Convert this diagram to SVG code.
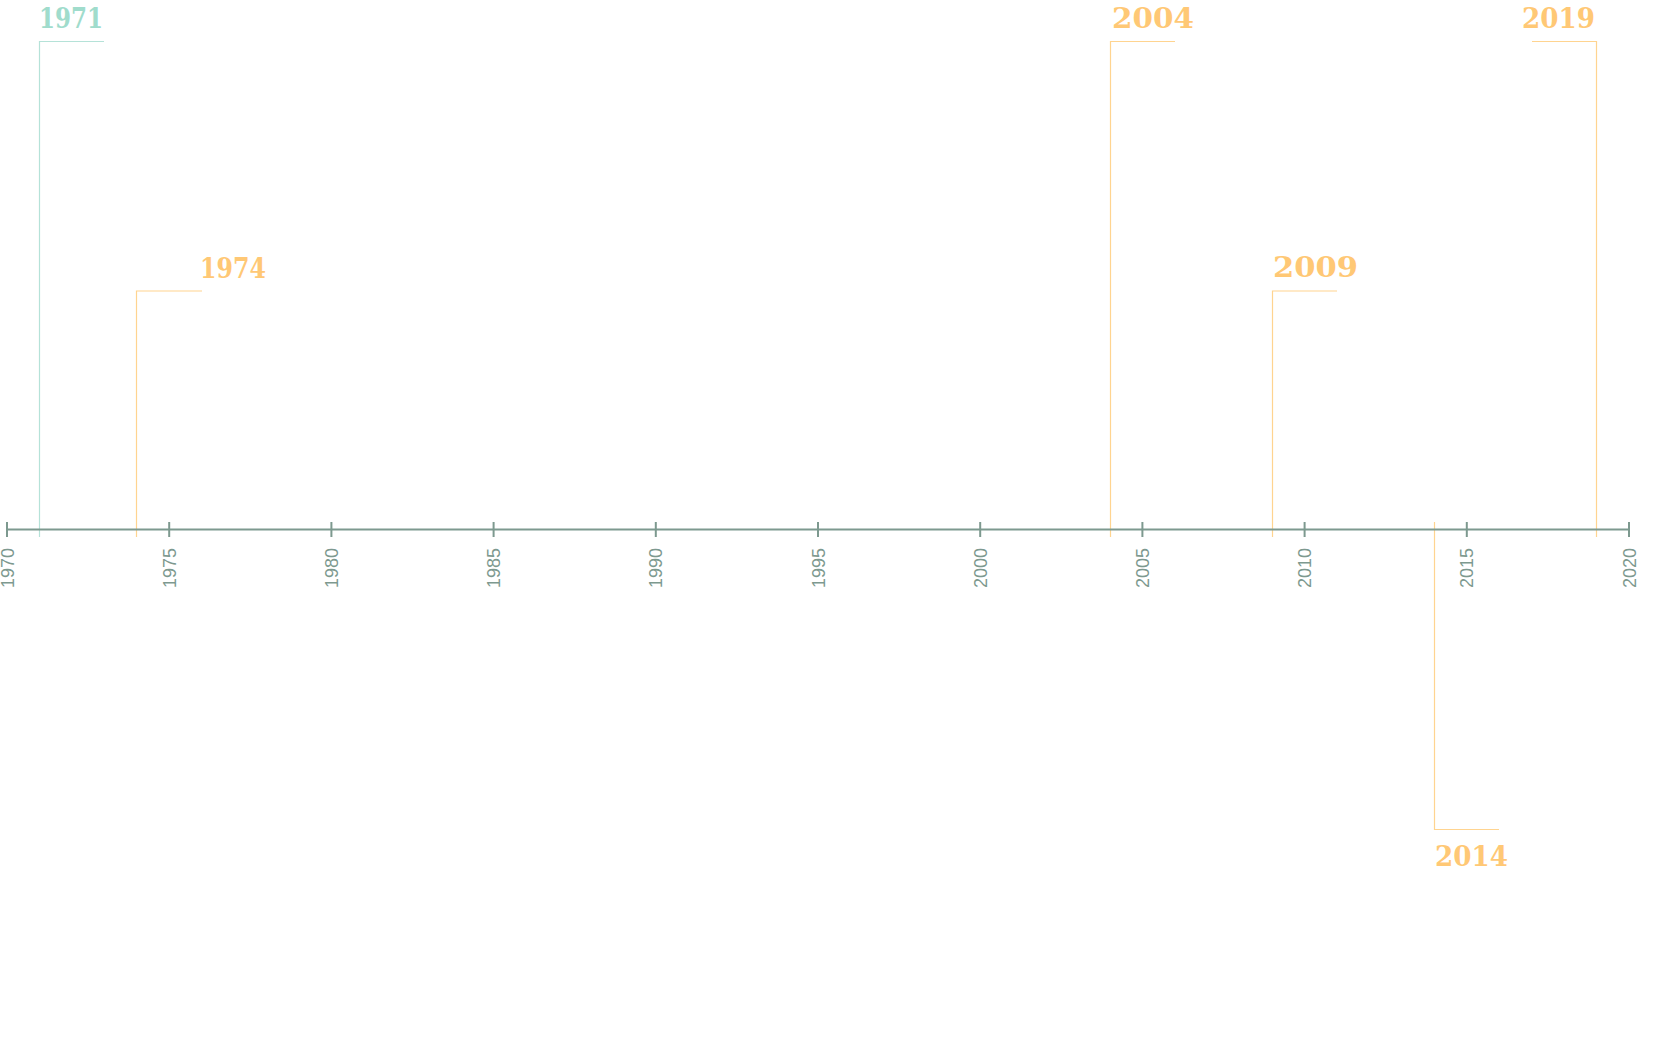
<svg xmlns="http://www.w3.org/2000/svg" width="1657" height="1057" viewBox="0 0 1657 1057">
<style>
.axis{stroke:#7d998f;stroke-width:2;fill:none}
.tick{stroke:#7d998f;stroke-width:2}
.al{font-family:"Liberation Sans",Arial,sans-serif;font-size:18px;fill:#7d998f;text-anchor:end}
.yr{font-family:"DejaVu Serif",serif;font-weight:bold;font-size:28px}
.teal{fill:#a0dccc}
.orange{fill:#ffc875}
.lt{stroke:#b5e2d8;stroke-width:1.2;fill:none}
.lo{stroke:#ffd490;stroke-width:1.2;fill:none}
</style>
<rect width="1657" height="1057" fill="#ffffff"/>
<g id="connectors">
<polyline class="lt" points="39.5,537 39.5,41.5 104,41.5"/>
<polyline class="lo" points="136.5,537 136.5,291 202,291"/>
<polyline class="lo" points="1110.5,537 1110.5,41.5 1175,41.5"/>
<polyline class="lo" points="1272.5,537 1272.5,291 1337,291"/>
<polyline class="lo" points="1434.5,522 1434.5,829.5 1499,829.5"/>
<polyline class="lo" points="1596.5,537 1596.5,41.5 1532,41.5"/>
</g>
<g id="axis">
<line class="axis" x1="7" y1="529.5" x2="1629" y2="529.5"/>
<line class="tick" x1="7" y1="522" x2="7" y2="537"/>
<line class="tick" x1="169.2" y1="522" x2="169.2" y2="537"/>
<line class="tick" x1="331.4" y1="522" x2="331.4" y2="537"/>
<line class="tick" x1="493.6" y1="522" x2="493.6" y2="537"/>
<line class="tick" x1="655.8" y1="522" x2="655.8" y2="537"/>
<line class="tick" x1="818" y1="522" x2="818" y2="537"/>
<line class="tick" x1="980.2" y1="522" x2="980.2" y2="537"/>
<line class="tick" x1="1142.4" y1="522" x2="1142.4" y2="537"/>
<line class="tick" x1="1304.6" y1="522" x2="1304.6" y2="537"/>
<line class="tick" x1="1466.8" y1="522" x2="1466.8" y2="537"/>
<line class="tick" x1="1629" y1="522" x2="1629" y2="537"/>
<text class="al" transform="translate(13.5,548) rotate(-90)">1970</text>
<text class="al" transform="translate(175.7,548) rotate(-90)">1975</text>
<text class="al" transform="translate(337.9,548) rotate(-90)">1980</text>
<text class="al" transform="translate(500.1,548) rotate(-90)">1985</text>
<text class="al" transform="translate(662.3,548) rotate(-90)">1990</text>
<text class="al" transform="translate(824.5,548) rotate(-90)">1995</text>
<text class="al" transform="translate(986.7,548) rotate(-90)">2000</text>
<text class="al" transform="translate(1148.9,548) rotate(-90)">2005</text>
<text class="al" transform="translate(1311.1,548) rotate(-90)">2010</text>
<text class="al" transform="translate(1473.3,548) rotate(-90)">2015</text>
<text class="al" transform="translate(1635.5,548) rotate(-90)">2020</text>
</g>
<g id="event-1971"><text class="yr teal" x="39" y="28" textLength="64" lengthAdjust="spacingAndGlyphs">1971</text></g>
<g id="event-1974"><text class="yr orange" x="200" y="278" textLength="66" lengthAdjust="spacingAndGlyphs">1974</text></g>
<g id="event-2004"><text class="yr orange" x="1112" y="28" textLength="82" lengthAdjust="spacingAndGlyphs">2004</text></g>
<g id="event-2009"><text class="yr orange" x="1273" y="277" textLength="85" lengthAdjust="spacingAndGlyphs">2009</text></g>
<g id="event-2014"><text class="yr orange" x="1435" y="866" textLength="73" lengthAdjust="spacingAndGlyphs">2014</text></g>
<g id="event-2019"><text class="yr orange" x="1522" y="28" textLength="73" lengthAdjust="spacingAndGlyphs">2019</text></g>
</svg>
